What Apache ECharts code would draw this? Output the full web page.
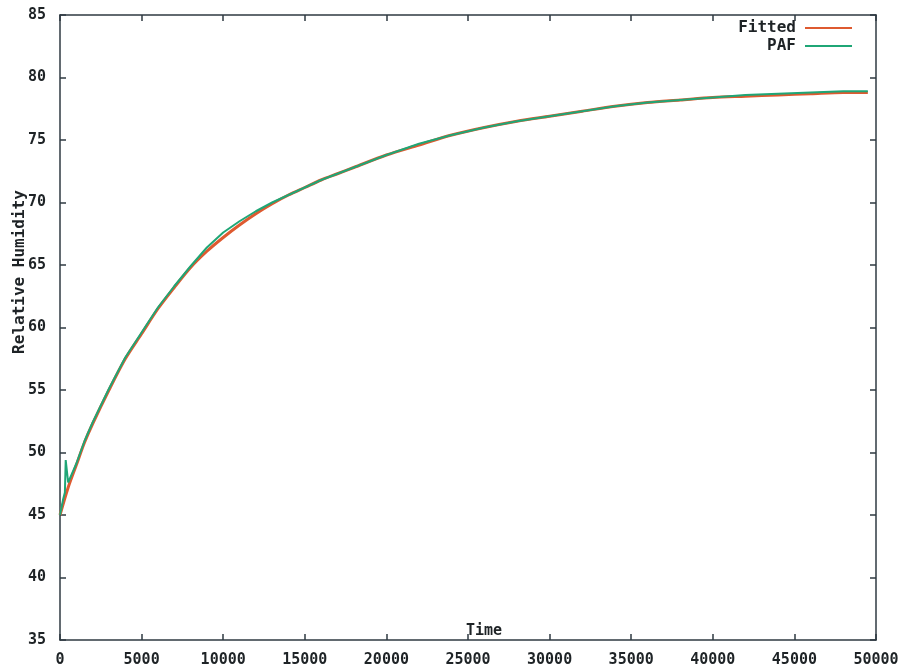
<!DOCTYPE html>
<html>
<head>
<meta charset="utf-8">
<title>Relative Humidity vs Time</title>
<script src="https://cdn.jsdelivr.net/npm/echarts@6/dist/echarts.min.js"></script>
<style>
  html, body { margin: 0; padding: 0; background: #ffffff; }
  #chart { width: 905px; height: 671px; }
</style>
</head>
<body>
<div id="chart"></div>
<script>
// Sample times (s) and relative humidity readings
const fittedTime = [0, 500, 1000, 1500, 2000, 3000, 4000, 5000, 6000, 7000, 8000, 9000,
  10000, 11000, 12000, 13000, 14000, 15000, 16000, 17000, 18000, 20000, 22000, 24000,
  26000, 28000, 30000, 32000, 34000, 36000, 38000, 40000, 42000, 44000, 46000, 48000, 49500];
const fittedRH = [45.0, 47.2, 49.0, 50.8, 52.3, 55.0, 57.5, 59.5, 61.5, 63.2, 64.8, 66.1,
  67.2, 68.2, 69.1, 69.9, 70.6, 71.2, 71.8, 72.3, 72.8, 73.8, 74.6, 75.4,
  76.0, 76.5, 76.9, 77.3, 77.7, 78.0, 78.2, 78.4, 78.5, 78.6, 78.7, 78.8, 78.8];

const pafTime = [0, 200, 300, 350, 500, 1000, 1500, 2000, 3000, 4000, 5000, 6000, 7000, 8000, 9000,
  10000, 11000, 12000, 13000, 14000, 15000, 16000, 17000, 18000, 20000, 22000, 24000,
  26000, 28000, 30000, 32000, 34000, 36000, 38000, 40000, 42000, 44000, 46000, 48000, 49500];
const pafRH = [45.0, 46.3, 46.8, 49.4, 47.6, 49.1, 50.9, 52.4, 55.1, 57.6, 59.6, 61.6, 63.3, 64.9, 66.4,
  67.6, 68.5, 69.3, 70.0, 70.6, 71.2, 71.8, 72.3, 72.8, 73.8, 74.7, 75.4,
  76.0, 76.5, 76.9, 77.3, 77.7, 78.0, 78.2, 78.4, 78.6, 78.7, 78.8, 78.9, 78.9];

const seriesNames = ['Fitted', 'PAF'];
const xLabel = 'Time';
const yLabel = 'Relative Humidity';

const FONT = '"DejaVu Sans Mono", "Liberation Mono", monospace';
const AXIS_COLOR = '#2f3a42';
const TEXT_COLOR = '#1e2326';

const pairs = (xs, ys) => xs.map((x, i) => [x, ys[i]]);

const tickStyle = { show: true, inside: true, length: 6, lineStyle: { color: AXIS_COLOR, width: 1.5 } };
const lineStyleAxis = { show: true, onZero: false, lineStyle: { color: AXIS_COLOR, width: 1.5 } };
const labelStyle = { color: TEXT_COLOR, fontFamily: FONT, fontWeight: 'bold', fontSize: 15 };

const chart = echarts.init(document.getElementById('chart'), null, { renderer: 'canvas' });

chart.setOption({
  backgroundColor: '#ffffff',
  animation: false,
  grid: { left: 60, right: 29, top: 15, bottom: 31, containLabel: false },
  legend: {
    orient: 'vertical',
    right: 48,
    top: 15,
    align: 'right',
    itemWidth: 47,
    itemHeight: 2,
    itemGap: 2,
    icon: 'rect',
    textStyle: { color: TEXT_COLOR, fontFamily: FONT, fontWeight: 'bold', fontSize: 16, padding: [0, 4, 0, 0] },
    data: seriesNames
  },
  xAxis: [
    {
      type: 'value', min: 0, max: 50000, interval: 5000, position: 'bottom',
      axisLine: lineStyleAxis, axisTick: tickStyle, splitLine: { show: false },
      axisLabel: Object.assign({ margin: 13, formatter: v => String(v) }, labelStyle)
    },
    {
      type: 'value', min: 0, max: 50000, interval: 5000, position: 'top',
      axisLine: lineStyleAxis, axisTick: tickStyle, splitLine: { show: false },
      axisLabel: { show: false }
    }
  ],
  yAxis: [
    {
      type: 'value', min: 35, max: 85, interval: 5, position: 'left',
      axisLine: lineStyleAxis, axisTick: tickStyle, splitLine: { show: false },
      axisLabel: Object.assign({ margin: 14 }, labelStyle)
    },
    {
      type: 'value', min: 35, max: 85, interval: 5, position: 'right',
      axisLine: lineStyleAxis, axisTick: tickStyle, splitLine: { show: false },
      axisLabel: { show: false }
    }
  ],
  graphic: [
    {
      type: 'text', x: 484, y: 631,
      style: { text: xLabel, fill: TEXT_COLOR, font: 'bold 15px ' + FONT, textAlign: 'center', textVerticalAlign: 'middle' }
    },
    {
      type: 'text', x: 20, y: 272, rotation: Math.PI / 2,
      style: { text: yLabel, fill: TEXT_COLOR, font: 'bold 16px ' + FONT, textAlign: 'center', textVerticalAlign: 'middle' }
    }
  ],
  series: [
    {
      name: seriesNames[0], type: 'line', xAxisIndex: 0, yAxisIndex: 0,
      data: pairs(fittedTime, fittedRH), showSymbol: false, smooth: 0.3,
      itemStyle: { color: '#de5a30' },
      lineStyle: { color: '#de5a30', width: 3 }
    },
    {
      name: seriesNames[1], type: 'line', xAxisIndex: 0, yAxisIndex: 0,
      data: pairs(pafTime, pafRH), showSymbol: false, smooth: false,
      itemStyle: { color: '#1fa676' },
      lineStyle: { color: '#1fa676', width: 2 }
    }
  ]
});
</script>
</body>
</html>
